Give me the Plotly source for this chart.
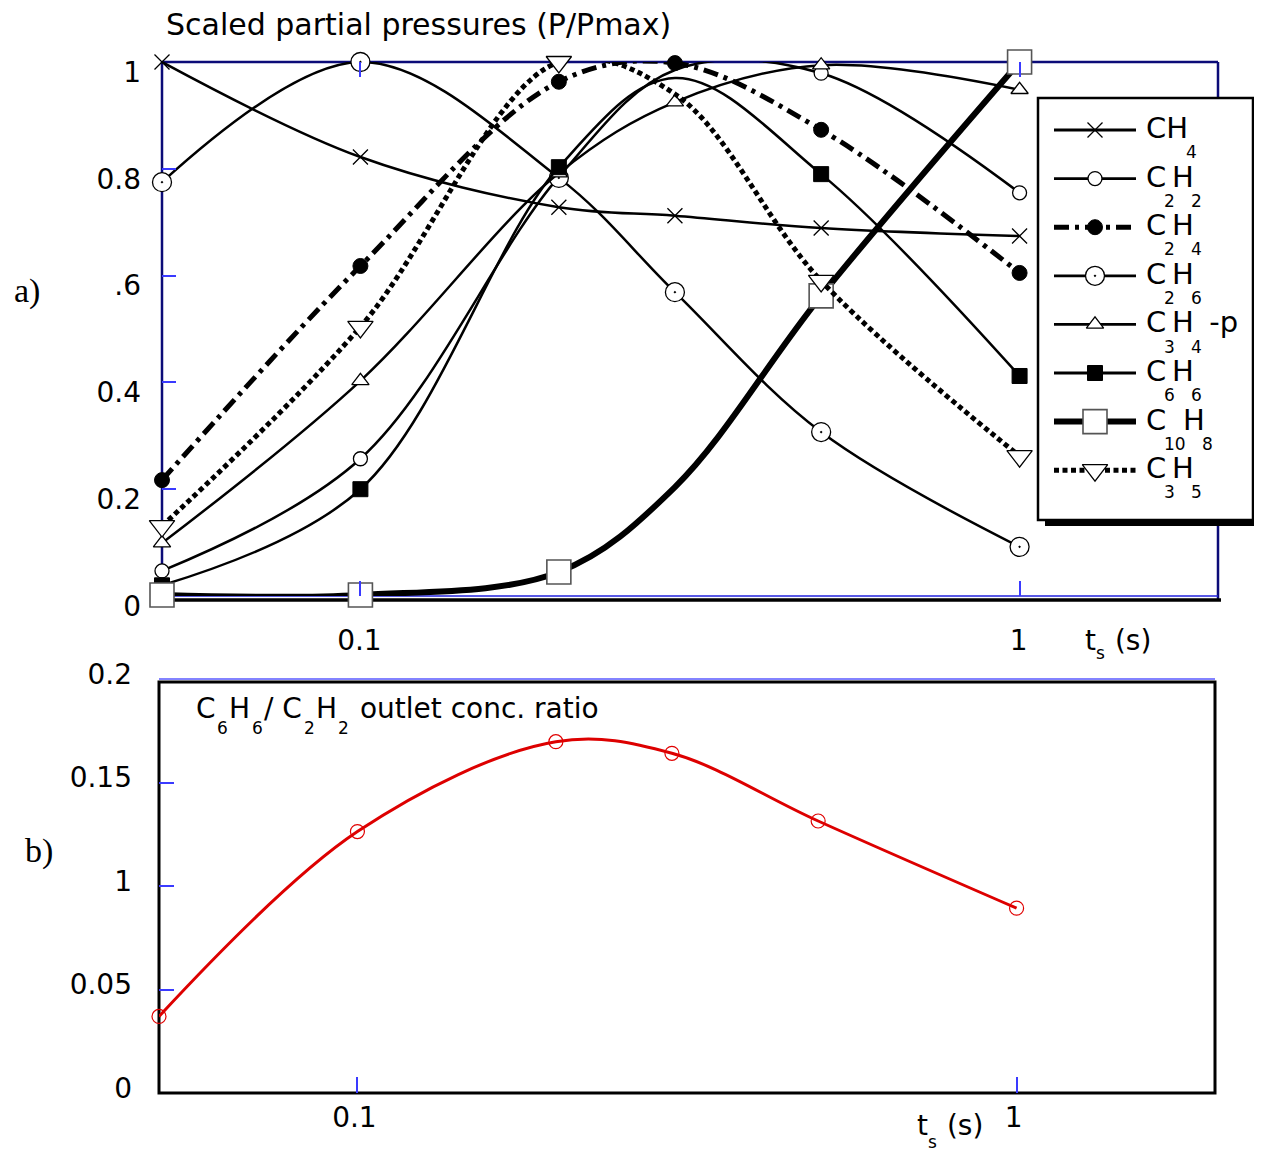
import math
import plotly.graph_objects as go

W, H = 1262, 1152
OFF = 8  # the page body margin shifts the figure by this many pixels

# ---------------- data ----------------
ts = [0.05, 0.1, 0.2, 0.3, 0.5, 1.0]

ch4   = [1.000, 0.822, 0.728, 0.712, 0.689, 0.674]
c2h2  = [0.047, 0.257, 0.785, 0.985, 0.979, 0.755]
c2h4  = [0.217, 0.618, 0.963, 0.998, 0.873, 0.605]
c2h6  = [0.775, 1.000, 0.783, 0.569, 0.307, 0.092]
c3h4p = [0.099, 0.403, 0.792, 0.925, 0.994, 0.948]
c6h6  = [0.020, 0.200, 0.803, 0.970, 0.790, 0.412]
c10h8 = [0.002, 0.002, 0.045, 0.204, 0.562, 1.000]
c3h5  = [0.131, 0.504, 1.000, 0.940, 0.590, 0.262]

ratio = [0.037, 0.1263, 0.1697, 0.1641, 0.1314, 0.0893]

x_tick_vals = [0.1, 1]
x_tick_text = ["0.1", "1"]
ya_tick_vals = [0, 0.2, 0.4, 0.6, 0.8, 1]
ya_tick_text = ["0", "0.2", "0.4", ".6", "0.8", "1"]
yb_tick_vals = [0, 0.05, 0.1, 0.15, 0.2]
yb_tick_text = ["0", "0.05", "1", "0.15", "0.2"]

# legend labels as (text, is_subscript) pieces
labels = {
    "CH4":   [("CH", 0), ("4", 1)],
    "C2H2":  [("C", 0), ("2", 1), ("H", 0), ("2", 1)],
    "C2H4":  [("C", 0), ("2", 1), ("H", 0), ("4", 1)],
    "C2H6":  [("C", 0), ("2", 1), ("H", 0), ("6", 1)],
    "C3H4p": [("C", 0), ("3", 1), ("H", 0), ("4", 1), (" -p", 0)],
    "C6H6":  [("C", 0), ("6", 1), ("H", 0), ("6", 1)],
    "C10H8": [("C", 0), ("10", 1), ("H", 0), ("8", 1)],
    "C3H5":  [("C", 0), ("3", 1), ("H", 0), ("5", 1)],
}
series_values = {
    "CH4": ch4, "C2H2": c2h2, "C2H4": c2h4, "C2H6": c2h6,
    "C3H4p": c3h4p, "C6H6": c6h6, "C10H8": c10h8, "C3H5": c3h5,
}
order = ["CH4", "C2H2", "C2H4", "C2H6", "C3H4p", "C6H6", "C10H8", "C3H5"]

# ---------------- styles ----------------
BLUE = "#3a3aff"
NAVY = "#0b0b78"
FONT = "DejaVu Sans"

styles = {
    "CH4":   dict(lw=2.5, dash="solid", sym="x-thin-open", ms=15, fill="black", lc="black", mlw=1.3, hide=[]),
    "C2H2":  dict(lw=2.5, dash="solid", sym="circle", ms=14, fill="white", lc="black", mlw=1.3, hide=[3]),
    "C2H4":  dict(lw=5, dash="15px,6px,4px,6px", sym="circle", ms=15, fill="black", lc="black", mlw=1, hide=[]),
    "C2H6":  dict(lw=2.5, dash="solid", sym="circle-dot", ms=19, fill="white", lc="black", mlw=1.3, hide=[]),
    "C3H4p": dict(lw=2.5, dash="solid", sym="triangle-up", ms=15, fill="white", lc="black", mlw=1.3, hide=[]),
    "C6H6":  dict(lw=2.5, dash="solid", sym="square", ms=15, fill="black", lc="black", mlw=1, hide=[3]),
    "C10H8": dict(lw=6, dash="solid", sym="square", ms=24, fill="white", lc="#555555", mlw=1.6, hide=[3]),
    "C3H5":  dict(lw=5, dash="5px,3.5px", sym="triangle-down", ms=22, fill="white", lc="black", mlw=1.3, hide=[3]),
}

DV = {'C': 0.698, 'H': 0.752, ' ': 0.318, '/': 0.337, '-': 0.361, 'p': 0.635,
      '(': 0.390, ')': 0.390, 's': 0.521, 't': 0.392, 'o': 0.612, 'u': 0.634,
      'l': 0.278, 'e': 0.615, 'n': 0.634, 'c': 0.550, '.': 0.318, 'r': 0.411,
      'a': 0.613, 'i': 0.278}


def tw(s, size):
    return sum(DV.get(ch, 0.636) for ch in s) * size


def px(x):
    return (x - OFF) / W


def py(y):
    return 1 - (y - OFF) / H


annotations = []


def formula(pieces, x0, base_main, base_sub, size_main, size_sub, gap=0.0):
    x = x0
    for text, sub in pieces:
        size = size_sub if sub else size_main
        base = base_sub if sub else base_main
        yc = base - 0.346 * size
        annotations.append(dict(
            text=text, x=px(x), y=py(yc), xref="paper", yref="paper",
            xanchor="left", yanchor="middle", showarrow=False,
            font=dict(family=FONT, size=size, color="black"), borderpad=0))
        x += tw(text, size) + gap


fig = go.Figure()

# ---------------- panel a ----------------
for key in order:
    st = styles[key]
    vals = series_values[key]
    op = [0 if i in st["hide"] else 1 for i in range(len(vals))]
    fig.add_trace(go.Scatter(
        x=ts, y=vals, xaxis="x", yaxis="y", mode="lines+markers",
        line=dict(color="black", width=st["lw"], dash=st["dash"], shape="spline", smoothing=1.0),
        marker=dict(symbol=st["sym"], size=st["ms"], color=st["fill"], opacity=op,
                    line=dict(color=st["lc"], width=st["mlw"])),
        cliponaxis=False, hoverinfo="skip", showlegend=False))

# ---------------- panel b ----------------
fig.add_trace(go.Scatter(
    x=ts, y=ratio, xaxis="x2", yaxis="y2", mode="lines+markers",
    line=dict(color="#dd0000", width=3, shape="spline", smoothing=1.0),
    marker=dict(symbol="circle-open", size=14, color="#e00000", line=dict(width=1.2)),
    cliponaxis=False, hoverinfo="skip", showlegend=False))

# ---------------- legend (drawn on a hidden overlay axis) ----------------
LEG_L, LEG_T, LEG_R, LEG_B = 1038, 98, 1253, 520
ROW0, ROWSTEP = 32, 48.6
for i, key in enumerate(order):
    st = styles[key]
    ry = ROW0 + ROWSTEP * i
    lw = st["lw"] if st["lw"] > 3 else 2.8
    fig.add_trace(go.Scatter(
        x=[16, 98], y=[ry, ry], xaxis="x3", yaxis="y3", mode="lines",
        line=dict(color="black", width=lw, dash=st["dash"]),
        hoverinfo="skip", showlegend=False))
    fig.add_trace(go.Scatter(
        x=[57], y=[ry], xaxis="x3", yaxis="y3", mode="markers",
        marker=dict(symbol=st["sym"], size=st["ms"], color=st["fill"],
                    line=dict(color=st["lc"], width=st["mlw"])),
        hoverinfo="skip", showlegend=False))
    ay = LEG_T + ry
    formula(labels[key], 1145, ay + 8, ay + 28, 29, 17, gap=-2.5)

# ---------------- texts ----------------
annotations.append(dict(text="Scaled partial pressures (P/Pmax)", x=px(164), y=py(25),
                        xref="paper", yref="paper", xanchor="left", yanchor="middle",
                        showarrow=False, font=dict(family=FONT, size=30, color="black")))
formula([("C", 0), ("6", 1), ("H", 0), ("6", 1), ("/ C", 0), ("2", 1), ("H", 0), ("2", 1),
         (" outlet conc. ratio", 0)], 195, 718, 734, 28, 17, gap=1.5)
formula([("t", 0), ("s", 1), (" (s)", 0)], 1084, 650, 659, 28, 17, gap=0.5)
formula([("t", 0), ("s", 1), (" (s)", 0)], 916, 1135, 1148, 28, 17, gap=0.5)
annotations.append(dict(text="a)", x=px(12), y=py(291), xref="paper", yref="paper",
                        xanchor="left", yanchor="middle", showarrow=False,
                        font=dict(family="Liberation Serif", size=34, color="black")))
annotations.append(dict(text="b)", x=px(23), y=py(851), xref="paper", yref="paper",
                        xanchor="left", yanchor="middle", showarrow=False,
                        font=dict(family="Liberation Serif", size=34, color="black")))

# ---------------- frames ----------------
shapes = []


def line(x0, y0, x1, y1, color, width):
    shapes.append(dict(type="line", xref="paper", yref="paper", x0=px(x0), y0=py(y0),
                       x1=px(x1), y1=py(y1), line=dict(color=color, width=width), layer="below"))


# panel a frame
line(162, 62, 1218, 62, NAVY, 2.5)
line(162, 62, 162, 600, NAVY, 2.5)
line(1218, 62, 1218, 600, NAVY, 2.5)
line(162, 600, 1221, 600, "black", 3.5)
line(162, 596, 1218, 596, "#2222dd", 1.5)
# panel b frame
line(159, 679, 1215, 679, "#5a5aff", 1.5)
shapes.append(dict(type="rect", xref="paper", yref="paper", x0=px(159), y0=py(682),
                   x1=px(1215), y1=py(1093), line=dict(color="black", width=3), layer="below"))
# legend box with shadow
shapes.append(dict(type="rect", xref="paper", yref="paper", x0=px(LEG_L + 7), y0=py(LEG_T + 7),
                   x1=px(LEG_R + 7), y1=py(LEG_B + 6), fillcolor="black",
                   line=dict(color="black", width=0), layer="below"))
shapes.append(dict(type="rect", xref="paper", yref="paper", x0=px(LEG_L), y0=py(LEG_T),
                   x1=px(LEG_R), y1=py(LEG_B), fillcolor="white",
                   line=dict(color="black", width=2.5), layer="below"))

tickfont = dict(family=FONT, size=28, color="black")
xrange_log = [math.log10(0.05), math.log10(2.0)]

fig.update_layout(
    width=W, height=H,
    margin=dict(l=0, r=0, t=0, b=0, autoexpand=False),
    paper_bgcolor="white", plot_bgcolor="rgba(0,0,0,0)",
    showlegend=False,
    font=dict(family=FONT, size=28, color="black"),
    xaxis=dict(type="log", range=xrange_log, domain=[px(162), px(1218)], anchor="y",
               tickvals=x_tick_vals, ticktext=x_tick_text, ticks="inside", ticklen=15,
               tickwidth=1.5, tickcolor=BLUE, mirror="ticks", showline=False,
               showgrid=False, zeroline=False, tickfont=tickfont,
               ticklabelstandoff=25, ticklabelshift=-1),
    yaxis=dict(range=[0, 1], domain=[py(596), py(62)], anchor="x",
               tickvals=ya_tick_vals, ticktext=ya_tick_text, ticks="inside", ticklen=14,
               tickwidth=1.5, tickcolor=BLUE, showline=False, showgrid=False,
               zeroline=False, tickfont=tickfont, ticklabelstandoff=20, ticklabelshift=10),
    xaxis2=dict(type="log", range=xrange_log, domain=[px(159), px(1215)], anchor="y2",
                tickvals=x_tick_vals, ticktext=x_tick_text, ticks="inside", ticklen=16,
                tickwidth=1.5, tickcolor=BLUE, showline=False, showgrid=False,
                zeroline=False, tickfont=tickfont, ticklabelstandoff=5, ticklabelshift=-3),
    yaxis2=dict(range=[0, 0.2], domain=[py(1093), py(679)], anchor="x2",
                tickvals=yb_tick_vals, ticktext=yb_tick_text, ticks="inside", ticklen=15,
                tickwidth=1.5, tickcolor=BLUE, showline=False, showgrid=False,
                zeroline=False, tickfont=tickfont, ticklabelstandoff=26, ticklabelshift=-5),
    xaxis3=dict(range=[0, LEG_R - LEG_L], domain=[px(LEG_L), px(LEG_R)], anchor="y3",
                visible=False, fixedrange=True),
    yaxis3=dict(range=[LEG_B - LEG_T, 0], domain=[py(LEG_B), py(LEG_T)], anchor="x3",
                visible=False, fixedrange=True),
    shapes=shapes,
    annotations=annotations,
)

fig.write_html("out.html")
